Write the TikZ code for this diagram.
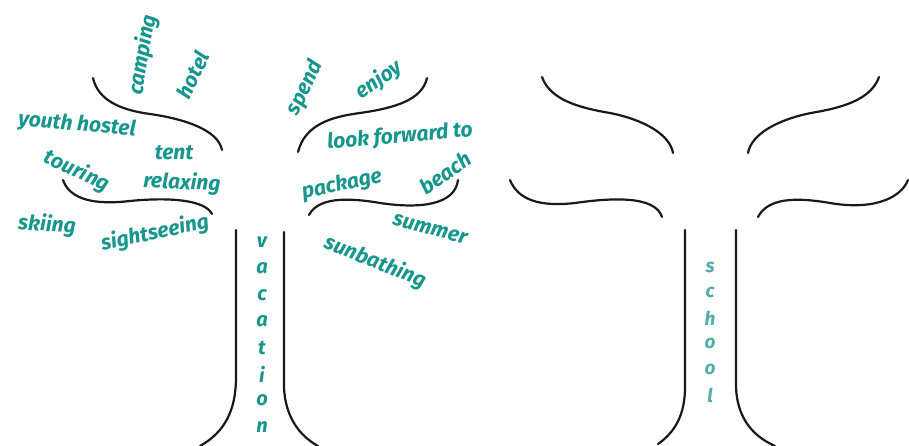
\documentclass[tikz,border=0pt]{standalone}
\usepackage{fontspec}
\setmainfont{Fira Sans}
\definecolor{leaf}{RGB}{22,150,140}
\definecolor{paleleaf}{RGB}{80,175,170}
\begin{document}
\begin{tikzpicture}[x=1pt,y=-1pt,
  branch/.style={line width=2.2pt,line cap=round,black!90},
  word/.style={text=leaf,font=\fontsize{21}{21}\selectfont\bfseries\itshape,inner sep=0pt},
  letter/.style={text=leaf,font=\fontsize{20}{20}\selectfont\bfseries\itshape,inner sep=0pt},
  pletter/.style={text=paleleaf,font=\fontsize{19}{19}\selectfont\bfseries\itshape,inner sep=0pt}]
\useasboundingbox[fill=white] (0,0) rectangle (909,446);
% ---------- left tree ----------
\draw[branch] (93,78) .. controls (98,100) and (120,110) .. (150,114) .. controls (185,119) and (218,130) .. (222,150);
\draw[branch] (63,180) .. controls (70,200) and (95,205) .. (130,201) .. controls (170,197) and (205,200) .. (212,214);
\draw[branch] (298,152) .. controls (305,125) and (330,117) .. (360,113) .. controls (395,108) and (422,100) .. (427,78);
\draw[branch] (309,215) .. controls (318,198) and (345,197) .. (380,203) .. controls (420,209) and (455,205) .. (458,180);
\draw[branch] (236,230) -- (236,377) .. controls (236,410) and (225,432) .. (200,446);
\draw[branch] (284,232) -- (284,387) .. controls (285,415) and (298,435) .. (318,446);
% ---------- right tree ----------
\draw[branch] (542,77) .. controls (550,100) and (580,108) .. (610,113) .. controls (645,120) and (670,135) .. (673,153);
\draw[branch] (879,77) .. controls (871,100) and (841,108) .. (811,113) .. controls (776,120) and (751,135) .. (748,153);
\draw[branch] (510,180) .. controls (518,200) and (540,207) .. (575,203) .. controls (610,198) and (655,195) .. (662,217);
\draw[branch] (758,217) .. controls (768,198) and (795,197) .. (830,203) .. controls (870,210) and (900,200) .. (908,180);
\draw[branch] (685,230) -- (685,387) .. controls (685,415) and (675,432) .. (658,444);
\draw[branch] (736,230) -- (736,387) .. controls (737,415) and (750,435) .. (775,446);
% ---------- words ----------
\node[word,rotate=80] (camping) at (143,55) {camping};
\node[word,rotate=65] (hotel) at (193,75) {hotel};
\node[word,rotate=-5] (youth) at (77,125) {youth hostel};
\node[word] (tent) at (174,153) {tent};
\node[word,rotate=-25] (touring) at (77,171) {touring};
\node[word,rotate=-3] (relax) at (182,183) {relaxing};
\node[word,rotate=-3] (skiing) at (47,225) {skiing};
\node[word,rotate=12] (sight) at (155,233) {sightseeing};
\node[word,rotate=65] (spend) at (305,88) {spend};
\node[word,rotate=35] (enjoy) at (379,80) {enjoy};
\node[word,rotate=5] (look) at (400,137) {look forward to};
\node[word,rotate=12] (package) at (342,185) {package};
\node[word,rotate=35] (beach) at (445,173) {beach};
\node[word,rotate=-15] (summer) at (430,229) {summer};
\node[word,rotate=-22] (sunb) at (375,262) {sunbathing};
% vacation
\foreach \c [count=\i] in {v,a,c,a,t,i,o,n}
  \node[letter] (vac\i) at (262,{242+26.4*(\i-1)}) {\c};
% school
\foreach \c [count=\i] in {s,c,h,o,o,l}
  \node[pletter] (sch\i) at (710,{267+25.6*(\i-1)}) {\c};
\end{tikzpicture}
\end{document}
